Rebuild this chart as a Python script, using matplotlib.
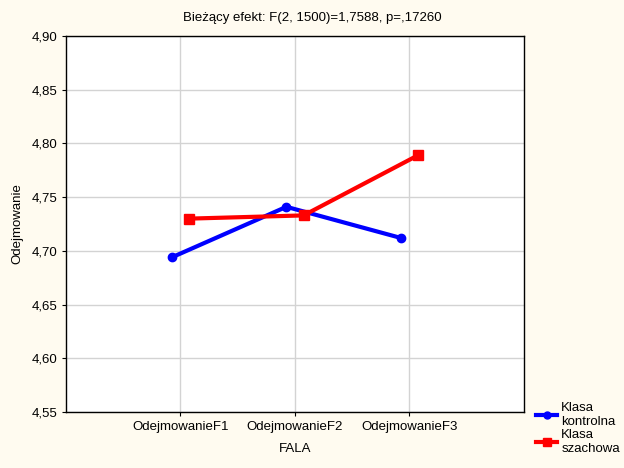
import matplotlib.pyplot as plt
from matplotlib.ticker import FuncFormatter
from matplotlib.lines import Line2D

plt.rcParams['font.family'] = ['Liberation Sans', 'DejaVu Sans']

# ----------------------
# data
# ----------------------
categories = ["OdejmowanieF1", "OdejmowanieF2", "OdejmowanieF3"]
kontrolna = [4.694, 4.741, 4.712]
szachowa = [4.730, 4.733, 4.789]
series_names = ["Klasa\nkontrolna", "Klasa\nszachowa"]
title = "Bieżący efekt: F(2, 1500)=1,7588, p=,17260"

fs = 9.5
bg = "#FFFBF0"
fig = plt.figure(figsize=(6.24, 4.68), dpi=100, facecolor=bg)
ax = fig.add_axes([66 / 624, 1 - 412 / 468, 458 / 624, 376 / 468])
ax.set_facecolor("white")

pos = [1, 2, 3]
off = 0.075
ax.plot([p - off for p in pos], kontrolna, color="#0000FF", lw=3,
        marker="o", ms=6, zorder=3)
ax.plot([p + off for p in pos], szachowa, color="#FF0000", lw=3,
        marker="s", ms=7, zorder=4)

ax.set_xlim(0, 4)
ax.set_ylim(4.55, 4.90)
ax.set_xticks(pos)
ax.set_xticklabels(categories)
ax.set_yticks([4.55, 4.60, 4.65, 4.70, 4.75, 4.80, 4.85, 4.90])
ax.yaxis.set_major_formatter(FuncFormatter(lambda v, _: f"{v:.2f}".replace(".", ",")))
ax.grid(True, color="#D3D3D3", lw=1)
ax.set_axisbelow(True)
ax.tick_params(labelsize=fs, length=3, color="black")
for s in ax.spines.values():
    s.set_color("black")
    s.set_linewidth(1)

ax.set_xlabel("FALA", fontsize=fs, labelpad=7)
ax.set_ylabel("Odejmowanie", fontsize=fs, labelpad=6)
fig.text(0.5, 1 - 18 / 468, title, ha="center", va="center", fontsize=fs)

handles = [
    Line2D([], [], color="#0000FF", lw=3, marker="o", ms=5),
    Line2D([], [], color="#FF0000", lw=3, marker="s", ms=6),
]
fig.legend(handles, series_names, loc="lower left",
           bbox_to_anchor=(527 / 624, 4 / 468), frameon=False,
           fontsize=fs, handlelength=1.6, handletextpad=0.3,
           labelspacing=0.1, borderpad=0.2)

plt.savefig("out.png", dpi=100, facecolor=bg)
